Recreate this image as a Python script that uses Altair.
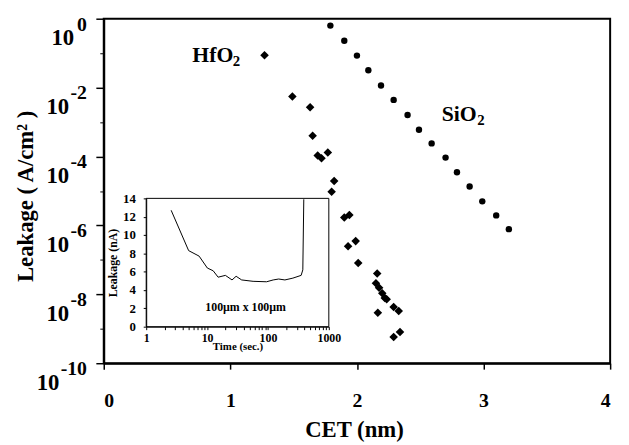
import altair as alt
import pandas as pd

FONT = "Liberation Serif"

# ---- main plot data ----
hfo2_cet = [1.27, 1.49, 1.63, 1.65, 1.69, 1.72, 1.77, 1.82, 1.80, 1.90, 1.94, 1.93, 1.99,
            2.01, 2.16, 2.15, 2.175, 2.20, 2.22, 2.235, 2.165, 2.29, 2.33, 2.29, 2.34]
hfo2_leak = [8.7e-2, 5.5e-3, 2.7e-3, 4.0e-4, 1.07e-4, 8.9e-5, 1.3e-4, 1.95e-5, 9.5e-6,
             1.7e-6, 2.0e-6, 2.5e-7, 3.5e-7, 8.1e-8, 4.0e-8, 2.1e-8, 1.55e-8, 1.07e-8,
             7.8e-9, 7.2e-9, 2.9e-9, 4.3e-9, 3.3e-9, 5.8e-10, 8.1e-10]
sio2_cet = [1.79, 1.90, 2.00, 2.09, 2.19, 2.29, 2.40, 2.49, 2.59, 2.70, 2.79, 2.89, 2.99, 3.10, 3.20]
sio2_leak = [6.3e-1, 2.3e-1, 8.5e-2, 3.2e-2, 1.15e-2, 4.4e-3, 1.6e-3, 6.0e-4, 2.4e-4,
             9.3e-5, 3.5e-5, 1.35e-5, 5.0e-6, 1.95e-6, 7.8e-7]
ytick_vals = [1, 1e-2, 1e-4, 1e-6, 1e-8, 1e-10]
ytick_exps = ["0", "-2", "-4", "-6", "-8", "-10"]
yminor_vals = [1e-1, 1e-3, 1e-5, 1e-7, 1e-9]
xtick_vals = [0, 1, 2, 3, 4]

# ---- inset data ----
inset_time = [2.57, 4.98, 7.4, 10.1, 12.6, 15.2, 20, 25.7, 30, 37, 57, 95, 122, 150, 190,
              257, 351, 374, 388]
inset_leak = [12.7, 8.3, 7.7, 6.4, 6.1, 5.4, 5.6, 5.1, 5.5, 5.1, 4.95, 4.9, 5.1, 5.2, 5.1,
              5.3, 5.6, 6.2, 13.9]
inset_yticks = [0, 2, 4, 6, 8, 10, 12, 14]
inset_xticks = [1, 2, 3, 4, 5, 6, 7, 8, 9, 10, 20, 30, 40, 50, 60, 70, 80, 90,
                100, 200, 300, 400, 500, 600, 700, 800, 900, 1000]

W, H = 513, 349

xs = alt.Scale(domain=[0, 4], nice=False)
ys = alt.Scale(type="log", domain=[1e-10, 1], nice=False)

df_sio2 = pd.DataFrame({"cet": sio2_cet, "leak": sio2_leak})
df_hfo2 = pd.DataFrame({"cet": hfo2_cet, "leak": hfo2_leak})
df_yl = pd.DataFrame({"leak": ytick_vals, "exp": ytick_exps})

x_main = alt.X(
    "cet:Q", scale=xs,
    axis=alt.Axis(orient="bottom", values=xtick_vals, format="d", title="CET (nm)", grid=False,
                  labelFont=FONT, labelFontSize=20, labelFontWeight="bold", labelColor="black",
                  labelBaseline="middle", labelPadding=32, tickSize=6, tickColor="black",
                  tickWidth=1.5, domainColor="black", domainWidth=2,
                  titleFont=FONT, titleFontSize=23, titleFontWeight="bold", titleColor="black",
                  titleBaseline="middle", titleY=67, titleX=W / 2 - 3),
)
y_main = alt.Y(
    "leak:Q", scale=ys,
    axis=alt.Axis(orient="left", values=ytick_vals, labels=False, title="Leakage ( A/cm² )",
                  grid=False, tickSize=8, tickColor="black", tickWidth=1.5, domainColor="black",
                  domainWidth=2, titleFont=FONT, titleFontSize=23, titleFontWeight="bold",
                  titleColor="black", titleAngle=-90, titleBaseline="middle",
                  titleAlign="center", titleX=-79, titleY=H / 2 + 5),
)
x_na = alt.X("cet:Q", scale=xs, axis=None)
y_na = alt.Y("leak:Q", scale=ys, axis=None)

sio2 = alt.Chart(df_sio2).mark_circle(size=42, color="black", opacity=1).encode(x=x_main, y=y_main)
hfo2 = alt.Chart(df_hfo2).mark_point(shape="diamond", filled=True, size=75, color="black",
                                     opacity=1).encode(x=x_na, y=y_na)

# minor ticks at odd decades
minor = alt.Chart(pd.DataFrame({"leak": yminor_vals})).mark_point(opacity=0).encode(
    y=alt.Y("leak:Q", scale=ys,
            axis=alt.Axis(orient="left", values=yminor_vals, labels=False, title=None,
                          domain=False, grid=False, tickSize=4, tickColor="black",
                          tickWidth=1)))

ann = pd.DataFrame({"cet": [0.70, 2.67], "leak": [8.7e-2, 1.7e-3], "lab": ["HfO", "SiO"],
                    "sub": ["2", "2"]})
ann_main = alt.Chart(ann).mark_text(font=FONT, fontSize=22, fontWeight="bold", align="left",
                                    baseline="middle", color="black").encode(
    x=x_na, y=y_na, text="lab:N")
ann_sub1 = alt.Chart(ann.iloc[[0]]).mark_text(font=FONT, fontSize=15, fontWeight="bold",
                                             align="left", baseline="middle", color="black",
                                             dx=41, dy=6).encode(x=x_na, y=y_na, text="sub:N")
ann_sub2 = alt.Chart(ann.iloc[[1]]).mark_text(font=FONT, fontSize=15, fontWeight="bold",
                                             align="left", baseline="middle", color="black",
                                             dx=36, dy=6).encode(x=x_na, y=y_na, text="sub:N")

ylab_base = alt.Chart(df_yl).transform_calculate(
    xpos="length(datum.exp) == 1 ? -30 : (length(datum.exp) == 2 ? -35 : -45)"
).mark_text(font=FONT, fontSize=23, fontWeight="bold", align="right", baseline="middle",
            color="black", dy=20).encode(
    x=alt.X("xpos:Q", scale=None, axis=None), y=y_na, text=alt.value("10"))
ylab_exp = alt.Chart(df_yl).mark_text(font=FONT, fontSize=20, fontWeight="bold", align="right",
                                      baseline="middle", color="black", dy=6).encode(
    x=alt.value(-17), y=y_na, text="exp:N")

# ---- inset ----
ix = alt.Scale(type="log", domain=[1, 1000], range=[43, 228], nice=False)
iy = alt.Scale(domain=[0, 14], range=[312, 182], nice=False)
df_in = pd.DataFrame({"t": inset_time, "na": inset_leak})

frame = alt.Chart(pd.DataFrame({"k": [0]})).mark_rect(fill="white", stroke="black",
                                                      strokeWidth=1).encode(
    x=alt.X(datum=1, scale=ix, axis=None), x2=alt.X2(datum=1000),
    y=alt.Y(datum=0, scale=iy, axis=None), y2=alt.Y2(datum=14))

inset_line = alt.Chart(df_in).mark_line(color="black", strokeWidth=1).encode(
    x=alt.X("t:Q", scale=ix,
            axis=alt.Axis(orient="bottom", offset=-37, values=inset_xticks, zindex=1,
                          labelExpr="(datum.value==1||datum.value==10||datum.value==100||datum.value==1000) ? datum.label : ''",
                          format="d", title="Time (sec.)", grid=False,
                          labelFont=FONT, labelFontSize=12, labelFontWeight="bold",
                          labelColor="black", labelPadding=3, tickSize=3, tickColor="black",
                          domainColor="black", domainWidth=1, labelFlush=False,
                          labelOverlap=False,
                          titleFont=FONT, titleFontSize=11, titleFontWeight="bold",
                          titleColor="black", titlePadding=-3)),
    y=alt.Y("na:Q", scale=iy,
            axis=alt.Axis(orient="left", offset=-43, values=inset_yticks, zindex=1,
                          title="Leakage (nA)", grid=False, labelFont=FONT, labelFontSize=13,
                          labelFontWeight="bold", labelColor="black", labelPadding=8,
                          tickSize=3, tickColor="black", domainColor="black", domainWidth=1,
                          titleFont=FONT, titleFontSize=12, titleFontWeight="bold",
                          titleColor="black", titlePadding=3)),
)

inset_txt = alt.Chart(pd.DataFrame({"t": [43], "na": [2.1], "lab": ["100µm x 100µm"]})).mark_text(
    font=FONT, fontSize=12, fontWeight="bold", color="black", align="center",
    baseline="middle").encode(
    x=alt.X("t:Q", scale=ix, axis=None), y=alt.Y("na:Q", scale=iy, axis=None), text="lab:N")

chart = alt.layer(
    sio2, minor, hfo2, ann_main, ann_sub1, ann_sub2, ylab_base, ylab_exp,
    frame, inset_line, inset_txt,
).resolve_scale(x="independent", y="independent").resolve_axis(
    x="independent", y="independent"
).properties(
    width=W, height=H,
    autosize=alt.AutoSizeParams(type="none"),
    padding={"left": 97, "top": 8, "right": 11, "bottom": 80},
    background="white",
).configure_view(stroke="black", strokeWidth=2)

chart.save("out.html", embed_options={"renderer": "svg", "actions": False})
